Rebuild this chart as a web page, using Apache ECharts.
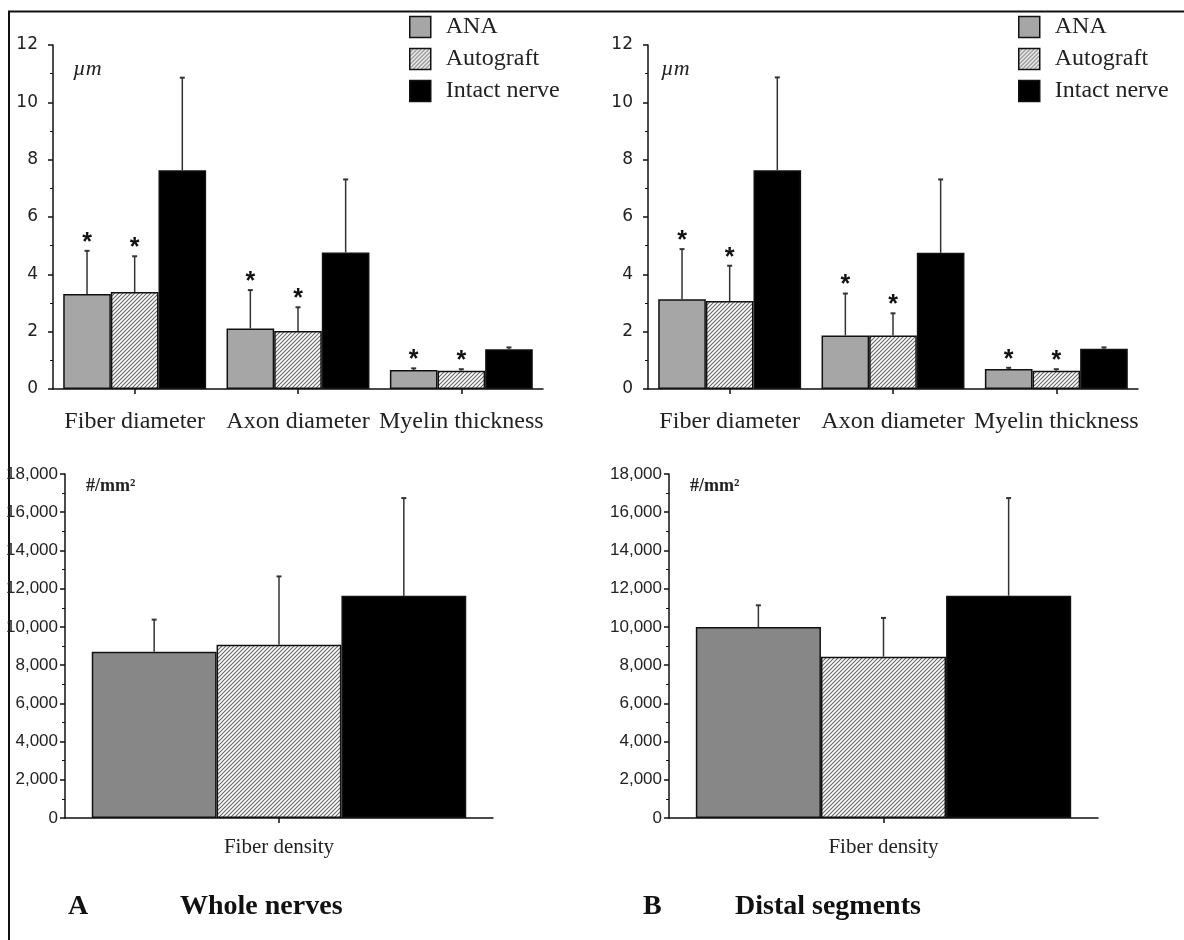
<!DOCTYPE html>
<html>
<head>
<meta charset="utf-8">
<script src="https://cdn.jsdelivr.net/npm/echarts@6/dist/echarts.min.js"></script>
<style>
html,body{margin:0;padding:0;background:#fff;}
#chart{width:1184px;height:940px;}
</style>
</head>
<body>
<div id="chart"></div>
<script>
// ---------------- data ----------------
const groups = ['ANA', 'Autograft', 'Intact nerve'];
const morphCategories = ['Fiber diameter', 'Axon diameter', 'Myelin thickness'];
const densityCategories = ['Fiber density'];
const morphTicks = [0, 2, 4, 6, 8, 10, 12];
const densityTicks = [0, 2000, 4000, 6000, 8000, 10000, 12000, 14000, 16000, 18000];

// A: Whole nerves (µm)
const wholeANA = [3.31, 2.11, 0.66];
const wholeANASD = [1.51, 1.34, 0.06];
const wholeAuto = [3.38, 2.02, 0.64];
const wholeAutoSD = [1.25, 0.83, 0.05];
const wholeIntact = [7.63, 4.76, 1.39];
const wholeIntactSD = [3.23, 2.55, 0.06];
const wholeSig = [[1, 1, 1], [1, 1, 1], [0, 0, 0]];

// B: Distal segments (µm)
const distalANA = [3.13, 1.87, 0.70];
const distalANASD = [1.75, 1.46, 0.04];
const distalAuto = [3.07, 1.87, 0.64];
const distalAutoSD = [1.23, 0.77, 0.05];
const distalIntact = [7.63, 4.75, 1.40];
const distalIntactSD = [3.24, 2.56, 0.05];
const distalSig = [[1, 1, 1], [1, 1, 1], [0, 0, 0]];

// Fiber density (#/mm²)
const wholeDensity = [8700, 9070, 11630];
const wholeDensitySD = [1680, 3570, 5110];
const distalDensity = [9990, 8440, 11630];
const distalDensitySD = [1140, 2030, 5110];

// ---------------- styles ----------------
const GAP = 0.125;
function hatchCanvas() {
  const s = 4;
  const c = document.createElement('canvas');
  c.width = s; c.height = s;
  const g = c.getContext('2d');
  g.fillStyle = '#ffffff';
  g.fillRect(0, 0, s, s);
  g.strokeStyle = '#666666';
  g.lineWidth = 1.1;
  g.beginPath();
  g.moveTo(0, s); g.lineTo(s, 0);
  g.moveTo(-1, 1); g.lineTo(1, -1);
  g.moveTo(s - 1, s + 1); g.lineTo(s + 1, s - 1);
  g.stroke();
  return c;
}
const hatch = { image: hatchCanvas(), repeat: 'repeat' };
const topColors = ['#a6a6a6', hatch, '#000000'];
const botColors = ['#878787', hatch, '#000000'];

const grids = [
  { left: 53, top: 45, width: 490, height: 344, outerBoundsMode: 'none', containLabel: false },
  { left: 648, top: 45, width: 490, height: 344, outerBoundsMode: 'none', containLabel: false },
  { left: 65, top: 474, width: 428, height: 344, outerBoundsMode: 'none', containLabel: false },
  { left: 669, top: 474, width: 429, height: 344, outerBoundsMode: 'none', containLabel: false }
];

function xAxisFor(i, cats, fs, margin) {
  return {
    type: 'category', gridIndex: i, data: cats,
    axisLine: { lineStyle: { color: '#111', width: 1.5 } },
    axisTick: { show: true, alignWithLabel: true, length: 5, lineStyle: { color: '#111', width: 1.5 } },
    axisLabel: { fontFamily: 'Liberation Serif', fontSize: fs, color: '#222', margin: margin, interval: 0 },
    splitLine: { show: false }
  };
}
function yAxisFor(i, ticks, fontFamily, fs, margin, fmt) {
  return {
    type: 'value', gridIndex: i,
    min: ticks[0], max: ticks[ticks.length - 1], interval: ticks[1] - ticks[0],
    axisLine: { show: true, lineStyle: { color: '#111', width: 1.5 } },
    axisTick: { show: true, length: 5, lineStyle: { color: '#111', width: 1.5 } },
    minorTick: { show: true, splitNumber: 2, length: 3, lineStyle: { color: '#111', width: 1 } },
    axisLabel: { fontFamily: fontFamily, fontSize: fs, color: '#222', margin: margin, formatter: fmt },
    splitLine: { show: false }
  };
}

function barSeries(gi, values, colors) {
  return values.map((vals, k) => ({
    type: 'bar', name: groups[k], xAxisIndex: gi, yAxisIndex: gi,
    data: vals,
    barGap: '0%', barCategoryGap: (GAP * 100) + '%',
    itemStyle: { color: colors[k], borderColor: '#111', borderWidth: 1.5 },
    emphasis: { disabled: true },
    z: 2
  }));
}

function errSeries(gi, means, sds, sigs) {
  const data = [];
  means.forEach((vals, k) => {
    vals.forEach((v, c) => {
      data.push([c, k, v, sds[k][c], sigs ? sigs[k][c] : 0]);
    });
  });
  return {
    type: 'custom', name: 'err' + gi, xAxisIndex: gi, yAxisIndex: gi,
    data: data, z: 5, silent: true,
    encode: { x: 0, y: 2 },
    renderItem: function (params, api) {
      const c = api.value(0), k = api.value(1), m = api.value(2), sd = api.value(3), sig = api.value(4);
      const catW = api.size([1, 0])[0];
      const barW = catW * (1 - GAP) / 3;
      const cx = api.coord([c, 0])[0] + (k - 1) * barW;
      const y0 = api.coord([c, m])[1];
      const y1 = api.coord([c, m + sd])[1];
      const children = [
        { type: 'line', shape: { x1: cx, y1: y0, x2: cx, y2: y1 }, style: { stroke: '#333', lineWidth: 1.5 } },
        { type: 'line', shape: { x1: cx - 2.5, y1: y1, x2: cx + 2.5, y2: y1 }, style: { stroke: '#333', lineWidth: 2 } }
      ];
      if (sig) {
        children.push({ type: 'text', style: { text: '*', x: cx, y: y1 - 8, align: 'center', verticalAlign: 'middle', font: 'bold 25px "Liberation Sans"', fill: '#111' } });
      }
      return { type: 'group', children: children };
    }
  };
}

const fmtInt = v => String(v);
const fmtThousands = v => Number(v).toLocaleString('en-US');

const option = {
  backgroundColor: '#ffffff',
  animation: false,
  grid: grids,
  xAxis: [
    xAxisFor(0, morphCategories, 24, 21),
    xAxisFor(1, morphCategories, 24, 21),
    xAxisFor(2, densityCategories, 21, 19),
    xAxisFor(3, densityCategories, 21, 19)
  ],
  yAxis: [
    yAxisFor(0, morphTicks, 'DejaVu Sans', 17, 15, fmtInt),
    yAxisFor(1, morphTicks, 'DejaVu Sans', 17, 15, fmtInt),
    yAxisFor(2, densityTicks, '"Liberation Sans"', 17, 7, fmtThousands),
    yAxisFor(3, densityTicks, '"Liberation Sans"', 17, 7, fmtThousands)
  ],
  legend: [404, 1013].map(x => ({
    left: x, top: 10, orient: 'vertical', data: groups, icon: 'rect',
    itemWidth: 21, itemHeight: 21, itemGap: 8, selectedMode: false,
    itemStyle: { borderColor: '#111', borderWidth: 1.5 },
    textStyle: { fontFamily: 'Liberation Serif', fontSize: 24, color: '#222', lineHeight: 24, padding: [0, 0, 0, 10] }
  })),
  series: [
    ...barSeries(0, [wholeANA, wholeAuto, wholeIntact], topColors),
    ...barSeries(1, [distalANA, distalAuto, distalIntact], topColors),
    ...barSeries(2, [[wholeDensity[0]], [wholeDensity[1]], [wholeDensity[2]]], botColors),
    ...barSeries(3, [[distalDensity[0]], [distalDensity[1]], [distalDensity[2]]], botColors),
    errSeries(0, [wholeANA, wholeAuto, wholeIntact], [wholeANASD, wholeAutoSD, wholeIntactSD], wholeSig),
    errSeries(1, [distalANA, distalAuto, distalIntact], [distalANASD, distalAutoSD, distalIntactSD], distalSig),
    errSeries(2, [[wholeDensity[0]], [wholeDensity[1]], [wholeDensity[2]]], [[wholeDensitySD[0]], [wholeDensitySD[1]], [wholeDensitySD[2]]], null),
    errSeries(3, [[distalDensity[0]], [distalDensity[1]], [distalDensity[2]]], [[distalDensitySD[0]], [distalDensitySD[1]], [distalDensitySD[2]]], null)
  ],
  graphic: [
    { type: 'line', shape: { x1: 9, y1: 11, x2: 9, y2: 940 }, style: { stroke: '#111', lineWidth: 2 } },
    { type: 'line', shape: { x1: 8, y1: 11.5, x2: 1184, y2: 11.5 }, style: { stroke: '#111', lineWidth: 2 } },
    { type: 'text', left: 73, top: 58, style: { text: 'µm', font: 'italic 22px "Liberation Serif"', fill: '#222' } },
    { type: 'text', left: 661, top: 58, style: { text: 'µm', font: 'italic 22px "Liberation Serif"', fill: '#222' } },
    { type: 'text', left: 86, top: 477, style: { text: '#/mm²', font: 'bold 18px "Liberation Serif"', fill: '#222' } },
    { type: 'text', left: 690, top: 477, style: { text: '#/mm²', font: 'bold 18px "Liberation Serif"', fill: '#222' } },
    { type: 'text', left: 68, top: 893, style: { text: 'A', font: 'bold 28px "Liberation Serif"', fill: '#111' } },
    { type: 'text', left: 180, top: 893, style: { text: 'Whole nerves', font: 'bold 28px "Liberation Serif"', fill: '#111' } },
    { type: 'text', left: 643, top: 893, style: { text: 'B', font: 'bold 28px "Liberation Serif"', fill: '#111' } },
    { type: 'text', left: 735, top: 893, style: { text: 'Distal segments', font: 'bold 28px "Liberation Serif"', fill: '#111' } }
  ]
};

const chart = echarts.init(document.getElementById('chart'), null, { renderer: 'canvas' });
chart.setOption(option);
</script>
</body>
</html>
